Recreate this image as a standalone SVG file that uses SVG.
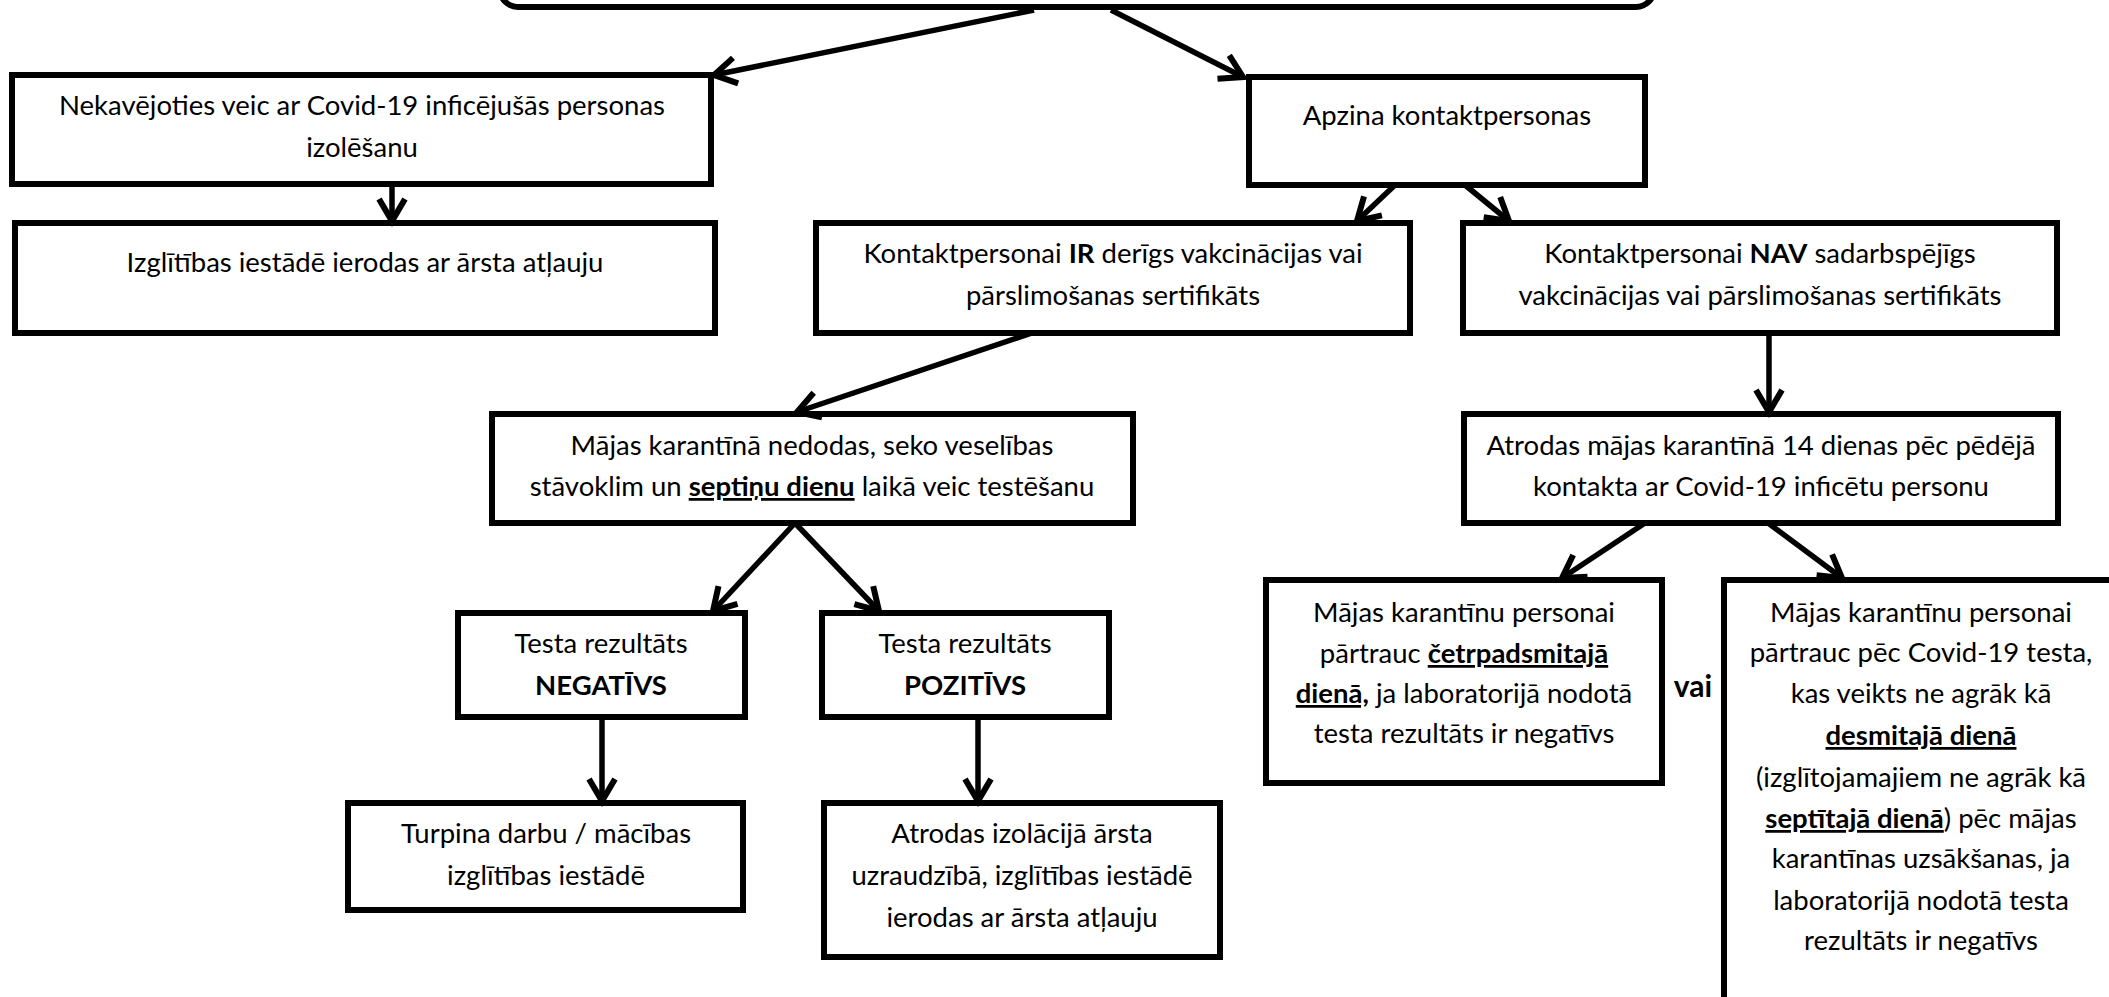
<svg xmlns="http://www.w3.org/2000/svg" width="2109" height="997" viewBox="0 0 2109 997">
<style>
.box{fill:#fff;stroke:#000;stroke-width:6}
.t{font-family:Lato,"Liberation Sans",sans-serif;font-size:27.5px;fill:#000;text-anchor:middle}
.b{font-weight:bold}
.u{font-weight:bold;text-decoration:underline}
.c{fill:none;stroke:#000;stroke-width:5.5}
</style>
<defs>
<marker id="ah" markerUnits="userSpaceOnUse" markerWidth="40" markerHeight="40" viewBox="-30 -20 40 40" refX="0" refY="0" orient="auto">
<path d="M-22,-13 L0,0 L-22,13" fill="none" stroke="#000" stroke-width="6" stroke-linejoin="miter"/>
</marker>
</defs>
<rect width="2109" height="997" fill="#fff"/>

<g id="top"><rect class="box" x="500" y="-80" width="1154" height="87" rx="18"/></g>

<g id="nodeA"><rect class="box" x="12" y="75" width="699" height="109"/>
<text class="t" x="362" y="115">Nekavējoties veic ar Covid-19 inficējušās personas</text>
<text class="t" x="362" y="157">izolēšanu</text></g>

<g id="nodeB"><rect class="box" x="15" y="223" width="700" height="110"/>
<text class="t" x="365" y="272">Izglītības iestādē ierodas ar ārsta atļauju</text></g>

<g id="apzina"><rect class="box" x="1249" y="77" width="396" height="108"/>
<text class="t" x="1447" y="125">Apzina kontaktpersonas</text></g>

<g id="ir"><rect class="box" x="816" y="223" width="594" height="110"/>
<text class="t" x="1113" y="263">Kontaktpersonai <tspan class="b">IR</tspan> derīgs vakcinācijas vai</text>
<text class="t" x="1113" y="305">pārslimošanas sertifikāts</text></g>

<g id="nav"><rect class="box" x="1463" y="223" width="594" height="110"/>
<text class="t" x="1760" y="263">Kontaktpersonai <tspan class="b">NAV</tspan> sadarbspējīgs</text>
<text class="t" x="1760" y="305">vakcinācijas vai pārslimošanas sertifikāts</text></g>

<g id="majas"><rect class="box" x="492" y="414" width="641" height="109"/>
<text class="t" x="812" y="455">Mājas karantīnā nedodas, seko veselības</text>
<text class="t" x="812" y="496">stāvoklim un <tspan class="u">septiņu dienu</tspan> laikā veic testēšanu</text></g>

<g id="atrodas14"><rect class="box" x="1464" y="414" width="594" height="109"/>
<text class="t" x="1761" y="455">Atrodas mājas karantīnā 14 dienas pēc pēdējā</text>
<text class="t" x="1761" y="496">kontakta ar Covid-19 inficētu personu</text></g>

<g id="neg"><rect class="box" x="458" y="613" width="287" height="104"/>
<text class="t" x="601" y="653">Testa rezultāts</text>
<text class="t b" x="601" y="695">NEGATĪVS</text></g>

<g id="poz"><rect class="box" x="822" y="613" width="287" height="104"/>
<text class="t" x="965" y="653">Testa rezultāts</text>
<text class="t b" x="965" y="695">POZITĪVS</text></g>

<g id="turpina"><rect class="box" x="348" y="803" width="395" height="107"/>
<text class="t" x="546" y="843">Turpina darbu / mācības</text>
<text class="t" x="546" y="885">izglītības iestādē</text></g>

<g id="izol"><rect class="box" x="824" y="803" width="396" height="154"/>
<text class="t" x="1022" y="843">Atrodas izolācijā ārsta</text>
<text class="t" x="1022" y="885">uzraudzībā, izglītības iestādē</text>
<text class="t" x="1022" y="927">ierodas ar ārsta atļauju</text></g>

<g id="m14"><rect class="box" x="1266" y="580" width="396" height="203"/>
<text class="t" x="1464" y="622">Mājas karantīnu personai</text>
<text class="t" x="1464" y="663">pārtrauc <tspan class="u">četrpadsmitajā</tspan></text>
<text class="t" x="1464" y="703"><tspan class="u">dienā,</tspan> ja laboratorijā nodotā</text>
<text class="t" x="1464" y="743">testa rezultāts ir negatīvs</text></g>

<g id="vai"><text class="t b" x="1693" y="697" style="font-size:30px">vai</text></g>

<g id="mt"><rect class="box" x="1724" y="580" width="400" height="430"/>
<text class="t" x="1921" y="622">Mājas karantīnu personai</text>
<text class="t" x="1921" y="662">pārtrauc pēc Covid-19 testa,</text>
<text class="t" x="1921" y="703">kas veikts ne agrāk kā</text>
<text class="t" x="1921" y="745"><tspan class="u">desmitajā dienā</tspan></text>
<text class="t" x="1921" y="787">(izglītojamajiem ne agrāk kā</text>
<text class="t" x="1921" y="828"><tspan class="u">septītajā dienā</tspan>) pēc mājas</text>
<text class="t" x="1921" y="868">karantīnas uzsākšanas, ja</text>
<text class="t" x="1921" y="910">laboratorijā nodotā testa</text>
<text class="t" x="1921" y="950">rezultāts ir negatīvs</text></g>

<g id="connectors">
<line class="c" x1="1034" y1="10" x2="714" y2="75" marker-end="url(#ah)"/>
<line class="c" x1="1111" y1="10" x2="1243" y2="77" marker-end="url(#ah)"/>
<line class="c" x1="392" y1="184" x2="392" y2="221" marker-end="url(#ah)"/>
<line class="c" x1="1395" y1="185" x2="1357" y2="221" marker-end="url(#ah)"/>
<line class="c" x1="1465" y1="185" x2="1509" y2="221" marker-end="url(#ah)"/>
<line class="c" x1="1032" y1="333" x2="797" y2="412" marker-end="url(#ah)"/>
<line class="c" x1="1769" y1="333" x2="1769" y2="412" marker-end="url(#ah)"/>
<line class="c" x1="795" y1="523" x2="713" y2="611" marker-end="url(#ah)"/>
<line class="c" x1="795" y1="523" x2="879" y2="611" marker-end="url(#ah)"/>
<line class="c" x1="1645" y1="523" x2="1562" y2="578" marker-end="url(#ah)"/>
<line class="c" x1="1768" y1="523" x2="1842" y2="578" marker-end="url(#ah)"/>
<line class="c" x1="602" y1="717" x2="602" y2="801" marker-end="url(#ah)"/>
<line class="c" x1="978" y1="717" x2="978" y2="801" marker-end="url(#ah)"/>
</g>
</svg>
